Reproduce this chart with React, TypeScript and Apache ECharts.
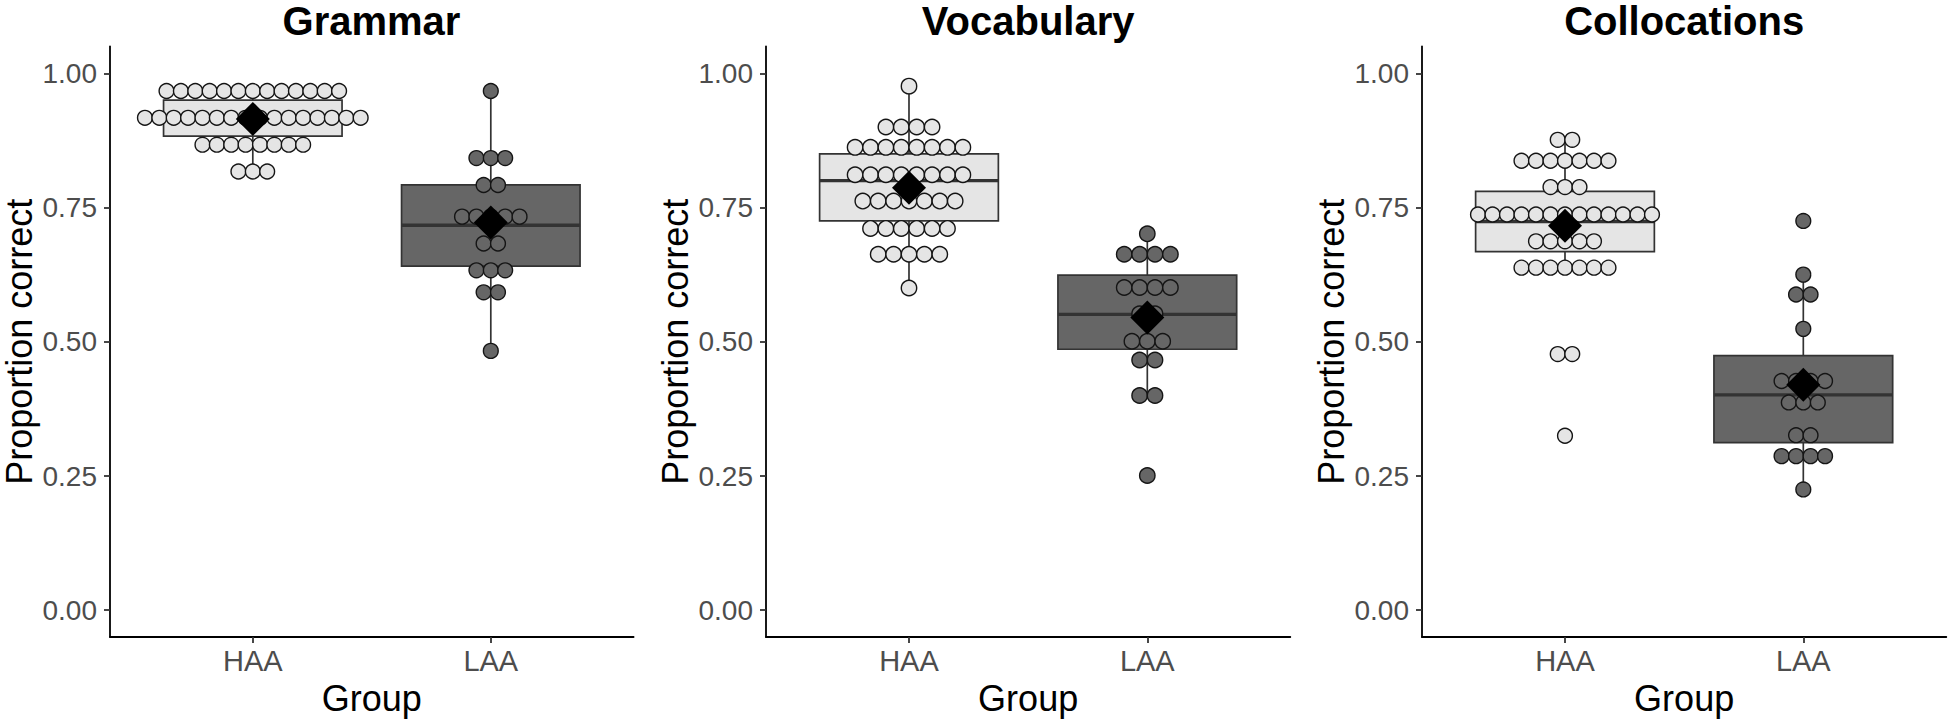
import React, { useEffect, useRef } from "react";
import * as echarts from "echarts";

// ---------------- data ----------------
const panelTitles = ["Grammar", "Vocabulary", "Collocations"];
const groups = ["HAA", "LAA"];
const yTickValues = [0, 0.25, 0.5, 0.75, 1];
const xTickValues = [1, 2];

// dot-plot rows: binned value and number of dots in the row
const grammarHaaValues = [0.967, 0.917, 0.867, 0.817];
const grammarHaaCounts = [13, 16, 8, 3];
const grammarLaaValues = [0.967, 0.842, 0.792, 0.733, 0.683, 0.633, 0.592, 0.483];
const grammarLaaCounts = [1, 3, 2, 5, 2, 3, 2, 1];

const vocabHaaValues = [0.976, 0.9, 0.862, 0.811, 0.762, 0.711, 0.663, 0.6];
const vocabHaaCounts = [1, 4, 8, 8, 7, 6, 5, 1];
const vocabLaaValues = [0.701, 0.663, 0.601, 0.552, 0.501, 0.466, 0.4, 0.251];
const vocabLaaCounts = [1, 4, 4, 2, 3, 2, 2, 1];

const collHaaValues = [0.876, 0.837, 0.788, 0.737, 0.687, 0.638, 0.477, 0.325];
const collHaaCounts = [2, 7, 3, 13, 5, 7, 2, 1];
const collLaaValues = [0.725, 0.625, 0.588, 0.524, 0.427, 0.387, 0.326, 0.287, 0.225];
const collLaaCounts = [1, 1, 2, 1, 4, 3, 2, 4, 1];

// box statistics [min, Q1, median, Q3, max] for HAA, LAA
const grammarBox = [
  [0.817, 0.883, 0.917, 0.95, 0.967],
  [0.483, 0.641, 0.717, 0.792, 0.967],
];
const vocabBox = [
  [0.6, 0.725, 0.8, 0.85, 0.976],
  [0.4, 0.486, 0.551, 0.624, 0.701],
];
const collBox = [
  [0.638, 0.668, 0.724, 0.78, 0.876],
  [0.225, 0.312, 0.401, 0.474, 0.625],
];

// group means
const grammarMeans = [0.915, 0.722];
const vocabMeans = [0.787, 0.545];
const collMeans = [0.716, 0.42];

// ---------------- layout / style ----------------
const FONT = '"Liberation Sans", Arial, Helvetica, sans-serif';
const GRID_LEFTS = [109.3, 766, 1422];
const GRID_W = 524.3;
const GRID_TOP = 46.4;
const GRID_H = 594.3;
const X_MIN = 0.4;
const X_MAX = 2.6;
const PX_PER_X = GRID_W / (X_MAX - X_MIN);
const DOT_STEP_PX = [14.4, 15.4, 14.5];
const DOT_SIZE = [14.8, 15.4, 14.8];
const FILLS = ["#E5E5E5", "#666666"];
const LINE = "#333333";

type Panel = {
  haa: [number[], number[]];
  laa: [number[], number[]];
  box: number[][];
  means: number[];
};

const panels: Panel[] = [
  { haa: [grammarHaaValues, grammarHaaCounts], laa: [grammarLaaValues, grammarLaaCounts], box: grammarBox, means: grammarMeans },
  { haa: [vocabHaaValues, vocabHaaCounts], laa: [vocabLaaValues, vocabLaaCounts], box: vocabBox, means: vocabMeans },
  { haa: [collHaaValues, collHaaCounts], laa: [collLaaValues, collLaaCounts], box: collBox, means: collMeans },
];

function dotPoints(values: number[], counts: number[], center: number, step: number) {
  const pts: number[][] = [];
  values.forEach((v, r) => {
    const n = counts[r];
    for (let k = 0; k < n; k++) pts.push([center + (k - (n - 1) / 2) * step, v]);
  });
  return pts;
}

function buildOption() {
  const grid: any[] = [];
  const xAxis: any[] = [];
  const yAxis: any[] = [];
  const series: any[] = [];
  const graphic: any[] = [];

  const axisLineStyle = { color: "#000", width: 1.8 };
  const tickLineStyle = { color: LINE, width: 1.8 };

  panels.forEach((p, i) => {
    grid.push({ left: GRID_LEFTS[i], top: GRID_TOP, width: GRID_W, height: GRID_H });
    xAxis.push({
      type: "value",
      gridIndex: i,
      min: X_MIN,
      max: X_MAX,
      splitLine: { show: false },
      axisLine: { show: true, onZero: false, lineStyle: axisLineStyle },
      axisTick: { show: true, customValues: xTickValues, length: 6, lineStyle: tickLineStyle },
      axisLabel: {
        customValues: xTickValues,
        formatter: (v: number) => groups[Math.round(v) - 1] ?? "",
        fontSize: 29,
        color: "#4d4d4d",
        margin: 9,
        fontFamily: FONT,
      },
      name: "Group",
      nameLocation: "middle",
      nameGap: 41,
      nameTextStyle: { fontSize: 36, color: "#000", fontFamily: FONT },
    });
    yAxis.push({
      type: "value",
      gridIndex: i,
      min: -0.05,
      max: 1.05,
      splitLine: { show: false },
      axisLine: { show: true, onZero: false, lineStyle: axisLineStyle },
      axisTick: { show: true, customValues: yTickValues, length: 6, lineStyle: tickLineStyle },
      axisLabel: {
        customValues: yTickValues,
        formatter: (v: number) => v.toFixed(2),
        fontSize: 28,
        color: "#4d4d4d",
        margin: 13,
        fontFamily: FONT,
      },
      name: "Proportion correct",
      nameLocation: "middle",
      nameRotate: 90,
      nameGap: 73,
      nameTextStyle: { fontSize: 36, color: "#000", fontFamily: FONT },
    });

    // boxplots
    series.push({
      type: "custom",
      xAxisIndex: i,
      yAxisIndex: i,
      z: 2,
      silent: true,
      data: p.box.map((b, gi) => [gi + 1, ...b]),
      encode: { x: 0, y: [1, 2, 3, 4, 5] },
      renderItem: (params: any, api: any) => {
        const x = api.value(0);
        const pts = [1, 2, 3, 4, 5].map((d) => api.coord([x, api.value(d)]));
        const cx = pts[0][0];
        const half = api.coord([x + 0.375, api.value(1)])[0] - cx;
        const fill = FILLS[params.dataIndex];
        return {
          type: "group",
          children: [
            { type: "line", shape: { x1: cx, y1: pts[0][1], x2: cx, y2: pts[1][1] }, style: { stroke: LINE, lineWidth: 1.7 } },
            { type: "line", shape: { x1: cx, y1: pts[3][1], x2: cx, y2: pts[4][1] }, style: { stroke: LINE, lineWidth: 1.7 } },
            {
              type: "rect",
              shape: { x: cx - half, y: pts[3][1], width: 2 * half, height: pts[1][1] - pts[3][1] },
              style: { fill, stroke: LINE, lineWidth: 1.7 },
            },
            { type: "line", shape: { x1: cx - half, y1: pts[2][1], x2: cx + half, y2: pts[2][1] }, style: { stroke: LINE, lineWidth: 3.4 } },
          ],
        };
      },
    });

    // dots
    const step = DOT_STEP_PX[i] / PX_PER_X;
    [p.haa, p.laa].forEach((rows, gi) => {
      series.push({
        type: "scatter",
        xAxisIndex: i,
        yAxisIndex: i,
        z: 3,
        silent: true,
        symbol: "circle",
        symbolSize: DOT_SIZE[i],
        itemStyle: { color: FILLS[gi], borderColor: "#151515", borderWidth: 1.4, opacity: 1 },
        data: dotPoints(rows[0], rows[1], gi + 1, step),
      });
    });

    // means
    series.push({
      type: "scatter",
      xAxisIndex: i,
      yAxisIndex: i,
      z: 4,
      silent: true,
      symbol: "diamond",
      symbolSize: 34,
      itemStyle: { color: "#000", opacity: 1 },
      data: p.means.map((m, gi) => [gi + 1, m]),
    });

    graphic.push({
      type: "text",
      x: GRID_LEFTS[i] + GRID_W / 2,
      y: 21,
      style: {
        text: panelTitles[i],
        fontSize: 40,
        fontWeight: "bold",
        fontFamily: FONT,
        fill: "#000",
        align: "center",
        textAlign: "center",
        verticalAlign: "middle",
        textVerticalAlign: "middle",
      },
    });
  });

  return {
    animation: false,
    backgroundColor: "#ffffff",
    textStyle: { fontFamily: FONT },
    grid,
    xAxis,
    yAxis,
    series,
    graphic,
  };
}

export default function App() {
  const ref = useRef<HTMLDivElement>(null);
  useEffect(() => {
    document.body.style.margin = "0";
    if (!ref.current) return;
    const chart = echarts.init(ref.current, undefined, { renderer: "svg" });
    chart.setOption(buildOption() as any);
    return () => chart.dispose();
  }, []);
  return <div ref={ref} style={{ width: 1950, height: 721, background: "#fff" }} />;
}
